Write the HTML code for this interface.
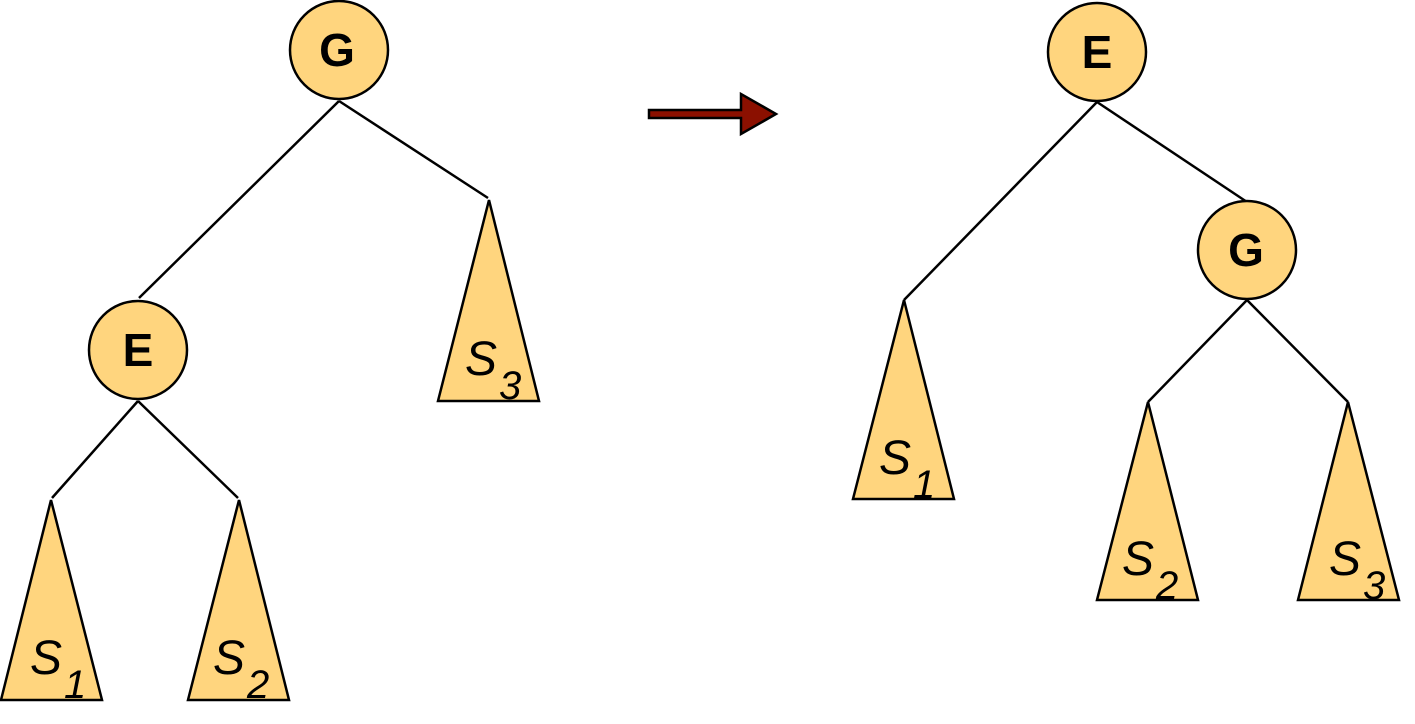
<!DOCTYPE html>
<html><head><style>body{margin:0;background:#fff}svg{display:block}</style></head><body>
<svg width="1415" height="724" xmlns="http://www.w3.org/2000/svg" font-family="Liberation Sans, sans-serif">
<g stroke="#000" stroke-width="2.5" fill="none">
<line x1="339" y1="101" x2="139" y2="298"/>
<line x1="339" y1="101" x2="488" y2="198"/>
<line x1="138" y1="401" x2="52" y2="498"/>
<line x1="138" y1="401" x2="238" y2="498"/>
<line x1="1097" y1="102" x2="904" y2="300"/>
<line x1="1097" y1="102" x2="1247" y2="202"/>
<line x1="1247" y1="300" x2="1148" y2="402"/>
<line x1="1247" y1="300" x2="1348" y2="402"/>
</g>
<g stroke="#000" stroke-width="2.5" fill="#FFD57E">
<circle cx="339" cy="50" r="49"/>
<circle cx="138" cy="350" r="49"/>
<circle cx="1097" cy="52" r="49"/>
<circle cx="1247" cy="250" r="49"/>
<polygon points="489,200 539,401 438,401"/>
<polygon points="51,500 102,700 1,700"/>
<polygon points="239,500 289,700 188,700"/>
<polygon points="904,300 954,499 853,499"/>
<polygon points="1148,402 1198,600 1097,600"/>
<polygon points="1348,402 1399,600 1298,600"/>
</g>
<polygon points="649,110 741,110 741,94 776,114 741,134 741,118 649,118" fill="#8B1000" stroke="#000" stroke-width="2.5"/>
<g font-weight="bold" font-size="46" text-anchor="middle">
<text x="337" y="66">G</text>
<text x="138" y="366">E</text>
<text x="1097" y="68">E</text>
<text x="1246" y="266">G</text>
</g>
<g font-style="italic" font-size="48">
<text x="30" y="674">S<tspan font-size="40" dx="2" dy="24">1</tspan></text>
<text x="213" y="674">S<tspan font-size="40" dx="2" dy="24">2</tspan></text>
<text x="465" y="375">S<tspan font-size="40" dx="2" dy="24">3</tspan></text>
<text x="879" y="474">S<tspan font-size="40" dx="2" dy="24">1</tspan></text>
<text x="1122" y="575">S<tspan font-size="40" dx="2" dy="24">2</tspan></text>
<text x="1329" y="575">S<tspan font-size="40" dx="2" dy="24">3</tspan></text>
</g>
</svg>
</body></html>
